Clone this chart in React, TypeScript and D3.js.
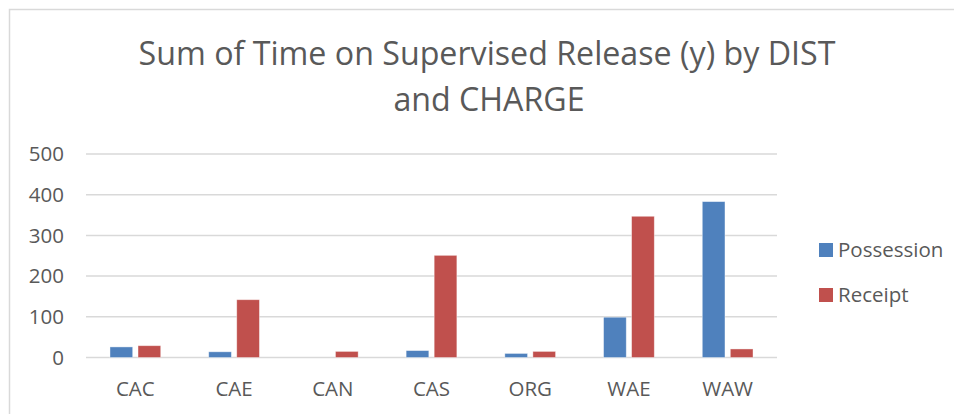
import React, { useEffect, useRef } from "react"
import * as d3 from "d3"

const districts = ["CAC", "CAE", "CAN", "CAS", "ORG", "WAE", "WAW"]
const seriesNames = ["Possession", "Receipt"]
const possession = [26, 14, 0, 17, 10, 99, 383]
const receipt = [29, 142, 15, 251, 15, 347, 21]
const yTicks = [0, 100, 200, 300, 400, 500]
const seriesColors = ["#4F81BD", "#C0504D"]

const W = 954
const H = 414
const FONT = "'Open Sans', 'Noto Sans', sans-serif"
const TEXT = "#595959"
const LABEL_SIZE = 20.5

export default function App() {
    const ref = useRef<SVGSVGElement>(null)

    useEffect(() => {
        if (!ref.current) return
        const svg = d3.select(ref.current)
        svg.selectAll("*").remove()

        // outer chart frame (bottom/right run off the picture)
        svg.append("rect")
            .attr("x", 9.5).attr("y", 9.5)
            .attr("width", W + 20).attr("height", H + 20)
            .attr("fill", "white")
            .attr("stroke", "#D9D9D9")
            .attr("stroke-width", 1.5)

        // title
        const title = svg.append("text")
            .attr("text-anchor", "middle")
            .attr("font-family", FONT)
            .attr("font-size", 32.2)
            .attr("fill", TEXT)
        title.append("tspan").attr("x", 487).attr("y", 65)
            .text("Sum of Time on Supervised Release (y) by DIST")
        title.append("tspan").attr("x", 489).attr("y", 111)
            .text("and CHARGE")

        const x0 = d3.scaleBand<string>()
            .domain(districts)
            .range([86, 777])
        const bw = x0.bandwidth()
        const x1 = d3.scaleBand<string>()
            .domain(seriesNames)
            .range([bw * 0.243, bw * 0.757])
            .paddingInner(0.19)
        const y = d3.scaleLinear().domain([0, 500]).range([357.5, 154])

        // gridlines
        svg.append("g")
            .selectAll("line")
            .data(yTicks)
            .join("line")
            .attr("x1", 86).attr("x2", 777)
            .attr("y1", d => y(d)).attr("y2", d => y(d))
            .attr("stroke", "#D9D9D9")
            .attr("stroke-width", 1.5)

        // y labels
        svg.append("g")
            .selectAll("text")
            .data(yTicks)
            .join("text")
            .attr("x", 64)
            .attr("y", d => y(d))
            .attr("dy", "0.36em")
            .attr("text-anchor", "end")
            .attr("font-family", FONT)
            .attr("font-size", LABEL_SIZE)
            .attr("fill", TEXT)
            .text(d => d)

        // bars
        const values = [possession, receipt]
        const groups = svg.append("g")
            .selectAll("g")
            .data(districts)
            .join("g")
            .attr("transform", d => `translate(${x0(d)},0)`)
        groups.selectAll("rect")
            .data((d, i) => seriesNames.map((s, k) => ({ s, k, v: values[k][i] })))
            .join("rect")
            .filter(d => d.v > 0)
            .attr("x", d => x1(d.s)!)
            .attr("width", x1.bandwidth())
            .attr("y", d => y(d.v))
            .attr("height", d => y(0) - y(d.v))
            .attr("fill", d => seriesColors[d.k])
            .attr("stroke", "white")
            .attr("stroke-opacity", 0.5)
            .attr("stroke-width", 0.8)

        // x labels
        svg.append("g")
            .selectAll("text")
            .data(districts)
            .join("text")
            .attr("x", d => x0(d)! + bw / 2)
            .attr("y", 396)
            .attr("text-anchor", "middle")
            .attr("font-family", FONT)
            .attr("font-size", LABEL_SIZE)
            .attr("fill", TEXT)
            .text(d => d)

        // legend
        const legend = svg.append("g")
            .selectAll("g")
            .data(seriesNames)
            .join("g")
            .attr("transform", (d, i) => `translate(819,${243 + i * 45})`)
        legend.append("rect")
            .attr("width", 14).attr("height", 14)
            .attr("fill", (d, i) => seriesColors[i])
        legend.append("text")
            .attr("x", 19).attr("y", 14)
            .attr("font-family", FONT)
            .attr("font-size", LABEL_SIZE)
            .attr("fill", TEXT)
            .text(d => d)
    }, [])

    return (
        <div style={{ position: "absolute", left: 0, top: 0 }}>
            <svg ref={ref} width={W} height={H} style={{ display: "block" }} />
        </div>
    )
}
